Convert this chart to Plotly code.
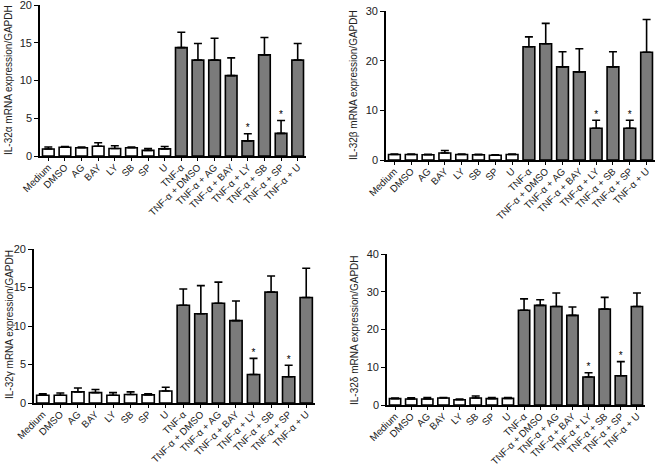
import plotly.graph_objects as go

categories = ["Medium", "DMSO", "AG", "BAY", "LY", "SB", "SP", "U",
              "TNF-α", "TNF-α + DMSO", "TNF-α + AG", "TNF-α + BAY",
              "TNF-α + LY", "TNF-α + SB", "TNF-α + SP", "TNF-α + U"]

alpha_mean = [0.93, 1.15, 1.1, 1.3, 1.0, 1.1, 0.75, 0.95,
              14.35, 12.7, 12.7, 10.65, 2.0, 13.4, 3.0, 12.7]
alpha_top = [1.2, 1.25, 1.2, 1.75, 1.35, 1.2, 1.0, 1.25,
             16.4, 14.9, 15.6, 13.0, 2.95, 15.7, 4.7, 14.9]

beta_mean = [1.1, 1.1, 1.05, 1.4, 1.1, 1.05, 0.95, 1.1,
             22.8, 23.4, 18.75, 17.75, 6.4, 18.75, 6.4, 21.7]
beta_top = [1.2, 1.2, 1.15, 1.9, 1.2, 1.15, 1.05, 1.2,
            24.8, 27.5, 21.8, 22.4, 8.0, 21.8, 8.0, 28.3]

gamma_mean = [1.0, 1.0, 1.45, 1.35, 1.0, 1.1, 1.05, 1.55,
              12.7, 11.6, 12.95, 10.7, 3.7, 14.4, 3.4, 13.7]
gamma_top = [1.2, 1.3, 1.95, 1.75, 1.35, 1.45, 1.2, 2.05,
             14.8, 15.25, 15.7, 13.25, 5.8, 16.5, 4.9, 17.5]

delta_mean = [1.7, 1.6, 1.6, 1.85, 1.4, 1.85, 1.7, 1.75,
              25.1, 26.4, 26.1, 23.75, 7.4, 25.4, 7.75, 26.1]
delta_top = [1.85, 1.9, 1.95, 2.0, 1.6, 2.4, 2.0, 2.0,
             28.1, 27.9, 29.65, 25.95, 8.55, 28.5, 11.5, 29.65]

significant = ["TNF-α + LY", "TNF-α + SP"]

panels = [
    ("IL-32α mRNA expression/GAPDH", alpha_mean, alpha_top, 20, [0, 5, 10, 15, 20]),
    ("IL-32β mRNA expression/GAPDH", beta_mean, beta_top, 30, [0, 10, 20, 30]),
    ("IL-32γ mRNA expression/GAPDH", gamma_mean, gamma_top, 20, [0, 5, 10, 15, 20]),
    ("IL-32δ mRNA expression/GAPDH", delta_mean, delta_top, 40, [0, 10, 20, 30, 40]),
]

W, H = 661, 467
# pixel boxes: (left, right, top, bottom) and y-title centre (x, y)
boxes = [(40, 306, 5, 156), (386, 655, 11, 160), (34, 315, 249, 403), (387, 645, 254, 405)]
title_pos = [(9, 80), (353, 85), (9, 325), (354, 330)]

FONT = "Liberation Sans, Arial, Helvetica, sans-serif"
fig = go.Figure()
layout = {}
annotations = []
for i, ((title, mean, top, ymax, tv), (l, r, t, b), (tx, ty)) in enumerate(zip(panels, boxes, title_pos)):
    n = i + 1
    xa = "x" if n == 1 else f"x{n}"
    ya = "y" if n == 1 else f"y{n}"
    colors = ["white"] * 8 + ["#7b7b7b"] * 8
    fig.add_trace(go.Bar(
        x=categories, y=mean, xaxis=xa, yaxis=ya,
        marker=dict(color=colors, line=dict(color="black", width=1.6)),
        width=0.7,
        error_y=dict(type="data", symmetric=False,
                     array=[tp - m for tp, m in zip(top, mean)],
                     arrayminus=[0] * len(mean),
                     color="black", thickness=1.6, width=4),
        showlegend=False, hoverinfo="skip"))
    sx = [c for c in categories if c in significant]
    sy = [top[categories.index(c)] for c in sx]
    fig.add_trace(go.Scatter(
        x=sx, y=sy, xaxis=xa, yaxis=ya, mode="text", text=["*"] * len(sx),
        textposition="top center", textfont=dict(size=10, color="#000000", family=FONT),
        showlegend=False, hoverinfo="skip"))
    xkey = "xaxis" if n == 1 else f"xaxis{n}"
    ykey = "yaxis" if n == 1 else f"yaxis{n}"
    layout[xkey] = dict(domain=[l / W, r / W], anchor=ya, range=[-0.5, 15.5],
                        showline=True, linecolor="black", linewidth=1.6,
                        ticks="outside", ticklen=3, tickwidth=1, tickcolor="black",
                        tickangle=-45, tickfont=dict(size=9.8, color="#222", family=FONT),
                        ticklabelstandoff=-3,
                        showgrid=False, zeroline=False, type="category", automargin=False,
                        ticklabeloverflow="allow")
    layout[ykey] = dict(domain=[1 - b / H, 1 - t / H], anchor=xa, range=[0, ymax],
                        tickvals=tv, showline=True, linecolor="black", linewidth=1.6,
                        ticks="outside", ticklen=4, tickwidth=1.3, tickcolor="black",
                        tickfont=dict(size=11, color="#222", family=FONT),
                        showgrid=False, zeroline=False, automargin=False,
                        ticklabeloverflow="allow")
    annotations.append(dict(text=title, x=tx / W, y=1 - ty / H, xref="paper", yref="paper",
                            xanchor="center", yanchor="middle", textangle=-90, showarrow=False,
                            font=dict(size=10, color="#222", family=FONT)))

fig.update_layout(width=W, height=H, margin=dict(l=0, r=0, t=0, b=0),
                  plot_bgcolor="white", paper_bgcolor="white", bargap=0.3,
                  font=dict(family=FONT), annotations=annotations, **layout)
fig.write_html("out.html", config={"displayModeBar": False},
               post_script="document.body.style.margin='0';document.body.style.overflow='hidden';")
